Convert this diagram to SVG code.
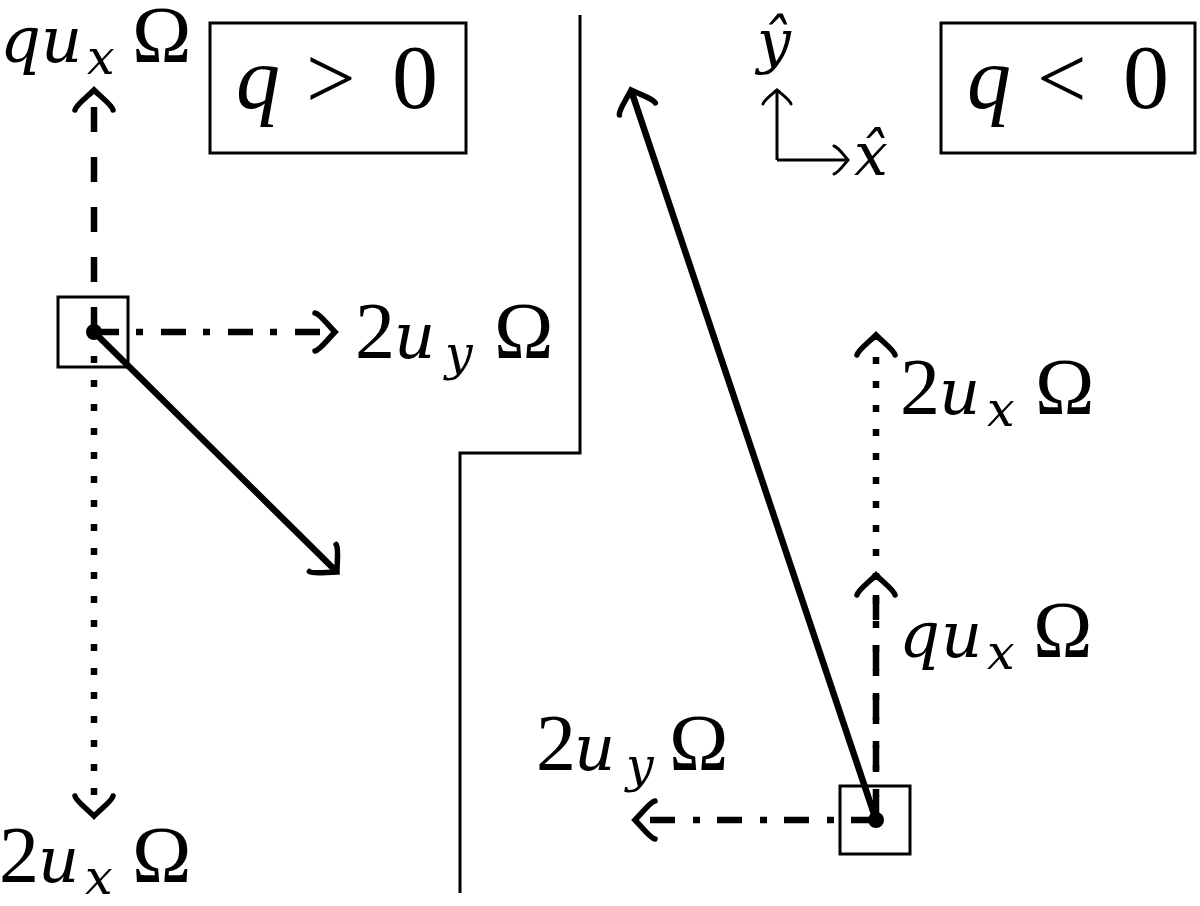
<svg xmlns="http://www.w3.org/2000/svg" width="1200" height="906" viewBox="0 0 1200 906">
<style>
.thin{fill:none;stroke:#000;stroke-width:3}
.vec{fill:none;stroke:#000;stroke-width:6.5}
.dashed{stroke-dasharray:25 25}
.dotted{stroke-dasharray:7 17}
.dashdot{stroke-dasharray:25 17 7 18}
.lab{font-family:"Liberation Serif",serif;fill:#000}
.it{font-family:"DejaVu Serif","Liberation Serif",serif;font-style:italic}
.bit{font-style:italic}
.big{font-size:80px}
.mid{font-size:64px}
.sub{font-size:49px}
</style>
<defs>
<marker id="ah" markerUnits="userSpaceOnUse" orient="auto" markerWidth="50" markerHeight="50" refX="0" refY="0" viewBox="-25 -25 50 50" overflow="visible">
<path d="M -20 -19 C -15 -18 -8 -8 0 0 C -8 8 -15 18 -20 19" fill="none" stroke="#000" stroke-width="5.5" stroke-linecap="round"/>
</marker>
<marker id="ahs" markerUnits="userSpaceOnUse" orient="auto" markerWidth="40" markerHeight="40" refX="0" refY="0" viewBox="-20 -20 40 40" overflow="visible">
<path d="M -14 -14 C -10 -13 -5 -6 0 0 C -5 6 -10 13 -14 14" fill="none" stroke="#000" stroke-width="3" stroke-linecap="round"/>
</marker>
</defs>

<g id="separator">
<polyline class="thin" points="580,15 580,453 460,453 460,893"/>
</g>

<g id="box-qpos">
<rect class="thin" x="210" y="23" width="256" height="130"/>
<text class="lab" font-size="88" y="108"><tspan class="bit" x="236">q</tspan><tspan x="306">&gt;</tspan><tspan x="392" font-size="92">0</tspan></text>
</g>

<g id="box-qneg">
<rect class="thin" x="941" y="23" width="254" height="130"/>
<text class="lab" font-size="88" y="108"><tspan class="bit" x="967">q</tspan><tspan x="1037">&lt;</tspan><tspan x="1123" font-size="92">0</tspan></text>
</g>

<g id="axes">
<line class="thin" x1="777" y1="160" x2="777" y2="90" marker-end="url(#ahs)"/>
<line class="thin" x1="777" y1="160" x2="848" y2="160" marker-end="url(#ahs)"/>
<text class="lab it" font-size="60" x="757" y="62">ŷ</text>
<text class="lab it" font-size="60" x="854" y="175">x̂</text>
</g>

<g id="connectors">
<line class="vec dashed" x1="94" y1="332" x2="94" y2="90" marker-end="url(#ah)"/>
<line class="vec dashdot" x1="94" y1="332" x2="335" y2="332" marker-end="url(#ah)"/>
<line class="vec dotted" x1="94" y1="332" x2="94" y2="816" marker-end="url(#ah)"/>
<line class="vec" x1="94" y1="332" x2="337" y2="572" marker-end="url(#ah)"/>
<line class="vec dotted" x1="876" y1="820" x2="876" y2="335" marker-end="url(#ah)"/>
<line class="vec dashed" x1="876" y1="820" x2="876" y2="575" marker-end="url(#ah)"/>
<line class="vec dashdot" x1="876" y1="820" x2="635" y2="820" marker-end="url(#ah)"/>
<line class="vec" x1="876" y1="820" x2="631" y2="90" marker-end="url(#ah)"/>
</g>

<g id="node-left">
<rect class="thin" x="58" y="297" width="70" height="70"/>
<circle cx="94" cy="332" r="8" fill="#000"/>
</g>

<g id="node-right">
<rect class="thin" x="840" y="786" width="70" height="68"/>
<circle cx="876" cy="820" r="8" fill="#000"/>
</g>

<g id="label-left-qux">
<text class="lab" y="62"><tspan class="it mid" x="0">q</tspan><tspan class="it mid" x="41">u</tspan><tspan class="it sub" x="87" y="74">x</tspan><tspan class="big" x="132" y="62">Ω</tspan></text>
</g>
<g id="label-left-2uy">
<text class="lab" y="358"><tspan class="big" x="355">2</tspan><tspan class="it mid" x="394">u</tspan><tspan class="it sub" x="445" y="370">y</tspan><tspan class="big" x="494" y="358">Ω</tspan></text>
</g>
<g id="label-left-2ux">
<text class="lab" y="882"><tspan class="big" x="-1">2</tspan><tspan class="it mid" x="38">u</tspan><tspan class="it sub" x="85" y="894">x</tspan><tspan class="big" x="132" y="882">Ω</tspan></text>
</g>
<g id="label-right-2ux">
<text class="lab" y="414"><tspan class="big" x="900">2</tspan><tspan class="it mid" x="939">u</tspan><tspan class="it sub" x="987" y="426">x</tspan><tspan class="big" x="1035" y="414">Ω</tspan></text>
</g>
<g id="label-right-qux">
<text class="lab" y="657"><tspan class="it mid" x="899">q</tspan><tspan class="it mid" x="941">u</tspan><tspan class="it sub" x="987" y="669">x</tspan><tspan class="big" x="1033" y="657">Ω</tspan></text>
</g>
<g id="label-right-2uy">
<text class="lab" y="770"><tspan class="big" x="536">2</tspan><tspan class="it mid" x="574">u</tspan><tspan class="it sub" x="626" y="782">y</tspan><tspan class="big" x="669" y="770">Ω</tspan></text>
</g>
</svg>
